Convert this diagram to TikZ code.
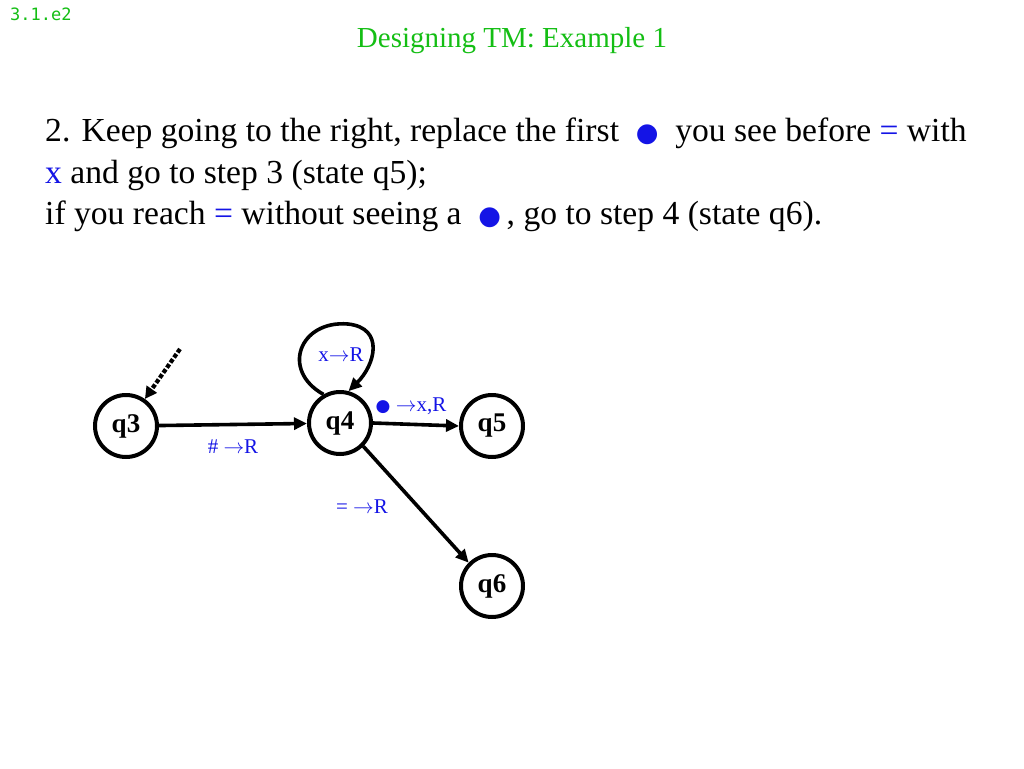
\documentclass[tikz,border=0pt]{standalone}
\usepackage{fontspec}
\setmainfont{Liberation Serif}
\newfontfamily\labelsans{DejaVu Sans}
\newfontfamily\tagmono{DejaVu Sans Mono}
\usetikzlibrary{arrows.meta}
\definecolor{titlegreen}{RGB}{20,190,20}
\definecolor{lblue}{RGB}{20,20,230}
\begin{document}
\begin{tikzpicture}[x=1pt,y=-1pt,
  state/.style={circle,draw,line width=4pt,minimum size=62pt,inner sep=0pt,font=\fontsize{27}{27}\selectfont\bfseries},
  edge/.style={line width=3.6pt,-{Triangle[length=13pt,width=12pt]}},
  elabel/.style={text=lblue,font=\fontsize{21}{21}\selectfont,inner sep=1pt},
  body/.style={font=\fontsize{33.6}{38}\selectfont,anchor=base west,inner sep=0pt}]
\useasboundingbox (0,0) rectangle (1024,768);
\node[anchor=base west,text=titlegreen,font=\tagmono\fontsize{17}{17}\selectfont,inner sep=0pt] (tag) at (10,21) {3.1.e2};
\node[text=titlegreen,font=\fontsize{29}{29}\selectfont,anchor=base,inner sep=0pt] (title) at (512,48) {Designing TM: Example 1};
\node[body] (l1) at (45,141) {2. Keep going to the right, replace the first \ {\color{lblue}\labelsans\fontsize{26}{26}\selectfont ●} \ you see before {\color{lblue}=} with};
\node[body] (l2) at (45,183) {{\color{lblue}x} and go to step 3 (state q5);};
\node[body] (l3) at (45,224) {if you reach {\color{lblue}=} without seeing a \ {\color{lblue}\labelsans\fontsize{26}{26}\selectfont ●}\,, go to step 4 (state q6).};

\node[state] (q3) at (126,426) {q3};
\node[state] (q4) at (340,423) {q4};
\node[state] (q5) at (492,426) {q5};
\node[state] (q6) at (492,586) {q6};

\coordinate (start) at (180,349);
\draw[line width=4.2pt,dotted,-{Triangle[length=12pt,width=12pt]}] (start) -- (q3.55);
\draw[edge] (q3) -- (q4);
\draw[edge] (q4.east) -- (q5.west);
\draw[edge] (q4.-45) -- (q6.135);
\draw[edge] (q4.120) .. controls (280,370) and (300,320) .. (348,324) .. controls (385,328) and (375,365) .. (q4.75);

\node[elabel] (lx) at (341,355) {x$\rightarrow$R};
\node[elabel] (lb) at (411,406) {{\labelsans\fontsize{17}{17}\selectfont ●} $\rightarrow$x,R};
\node[elabel] (lh) at (233,447) {\# $\rightarrow$R};
\node[elabel] (le) at (362,507) {= $\rightarrow$R};
\end{tikzpicture}
\end{document}
